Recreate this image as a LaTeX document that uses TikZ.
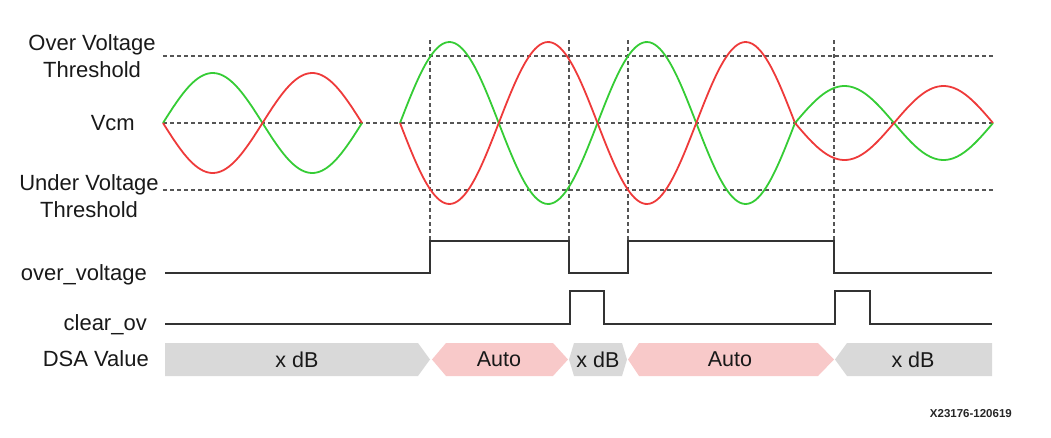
\documentclass[tikz,border=0pt]{standalone}
\usepackage{fontspec}
\setmainfont{Liberation Sans}
\definecolor{wavegreen}{HTML}{35CC35}
\definecolor{wavered}{HTML}{EE3A3A}
\definecolor{dsagray}{HTML}{D9D9D9}
\definecolor{dsapink}{HTML}{F8C9C9}
\definecolor{sigline}{HTML}{333333}
\definecolor{guideline}{HTML}{555555}

\begin{document}
\begin{tikzpicture}[x=1pt, y=-1pt,
    guide/.style={guideline, line width=1.2pt, dash pattern=on 4pt off 3pt},
    wave/.style={line width=1.8pt, smooth, samples=80},
    sig/.style={sigline, line width=1.8pt, line join=miter},
    lbl/.style={font=\fontsize{22}{27}\selectfont, text=black!90, inner sep=0pt},
    dsatext/.style={font=\fontsize{21.5}{27}\selectfont, text=black!90, inner sep=0pt}]
    \useasboundingbox (0,0) rectangle (1051,437);

    % Threshold and Vcm levels
    \foreach \lvl in {56,123,190}
        \draw[guide] (163,\lvl) -- (993,\lvl);
    % Event markers
    \foreach \t in {430,569,628,834}
        \draw[guide] (\t,40) -- (\t,241);

    % Input waveforms: small, large, then small again
    \draw[wave, wavegreen] plot[domain=163:362] (\x, {123-50*sin((\x-163)/99.5*180)});
    \draw[wave, wavered]   plot[domain=163:362] (\x, {123+50*sin((\x-163)/99.5*180)});
    \draw[wave, wavegreen] plot[domain=400:795] (\x, {123-81*sin((\x-400)/98.75*180)});
    \draw[wave, wavered]   plot[domain=400:795] (\x, {123+81*sin((\x-400)/98.75*180)});
    \draw[wave, wavegreen] plot[domain=795:993] (\x, {123-37*sin((\x-795)/99*180)});
    \draw[wave, wavered]   plot[domain=795:993] (\x, {123+37*sin((\x-795)/99*180)});

    % over_voltage and clear_ov
    \draw[sig] (165,273) -- (430,273) -- (430,241) -- (569,241) -- (569,273)
        -- (628,273) -- (628,241) -- (834,241) -- (834,273) -- (992,273);
    \draw[sig] (165,324) -- (570,324) -- (570,291) -- (604,291) -- (604,324)
        -- (835,324) -- (835,291) -- (870,291) -- (870,324) -- (992,324);

    % DSA value bus
    \fill[dsagray] (165,343) -- (418,343) -- (430,359.5) -- (418,376) -- (165,376) -- cycle;
    \fill[dsapink] (432,359.5) -- (446,343) -- (553,343) -- (568,359.5) -- (553,376) -- (446,376) -- cycle;
    \fill[dsagray] (569,359.5) -- (574,343) -- (622,343) -- (627,359.5) -- (622,376) -- (574,376) -- cycle;
    \fill[dsapink] (628,359.5) -- (639,343) -- (818,343) -- (834,359.5) -- (818,376) -- (639,376) -- cycle;
    \fill[dsagray] (835,359.5) -- (847,343) -- (992,343) -- (992,376) -- (847,376) -- cycle;
    \node[dsatext] (dsa1) at (297,359.5) {x dB};
    \node[dsatext] (dsa2) at (499,359.5) {Auto};
    \node[dsatext] (dsa3) at (598,359.5) {x dB};
    \node[dsatext] (dsa4) at (730,359.5) {Auto};
    \node[dsatext] (dsa5) at (913,359.5) {x dB};

    % Row labels
    \node[lbl, anchor=base, align=center] (ovth) at (92,77) {Over Voltage\\Threshold};
    \node[lbl, anchor=base east] (vcm) at (135,130) {Vcm};
    \node[lbl, anchor=base, align=center] (uvth) at (89,217) {Under Voltage\\Threshold};
    \node[lbl, anchor=base east] (ovlbl) at (147,280) {over\_voltage};
    \node[lbl, anchor=base east] (clrlbl) at (147,330) {clear\_ov};
    \node[lbl, anchor=base east] (dsalbl) at (149,366) {DSA Value};

    \node[anchor=base east, inner sep=0pt, font=\fontsize{11.5}{14}\selectfont\bfseries, text=black!85]
        (figid) at (1012,417) {X23176-120619};
\end{tikzpicture}
\end{document}
